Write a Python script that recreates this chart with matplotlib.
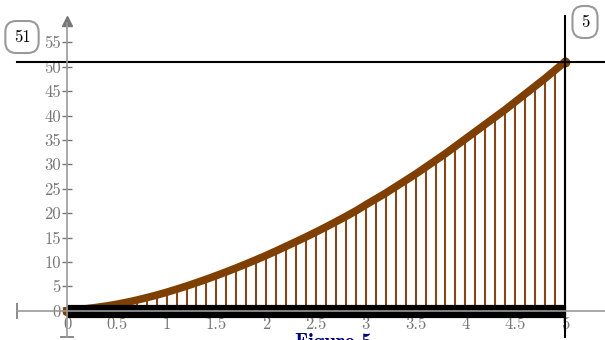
import matplotlib.pyplot as plt
from matplotlib.ticker import FuncFormatter

# curve samples, every 0.1 from 0 to 5
xs = [round(i * 0.1, 1) for i in range(51)]
ys = [0, 0.2, 0.42, 0.68, 0.98, 1.32, 1.72, 2.17, 2.67, 3.2,
      3.78, 4.4, 5.05, 5.74, 6.45, 7.2, 7.97, 8.77, 9.6, 10.45,
      11.33, 12.25, 13.2, 14.15, 15.12, 16.13, 17.16, 18.23, 19.32, 20.45,
      21.7, 22.9, 24.1, 25.4, 26.7, 28.0, 29.4, 30.8, 32.2, 33.7,
      35.2, 36.7, 38.2, 39.7, 41.2, 42.8, 44.4, 46.0, 47.6, 49.3,
      51.0]
x_ticks = [0, 0.5, 1, 1.5, 2, 2.5, 3, 3.5, 4, 4.5, 5]
y_ticks = [0, 5, 10, 15, 20, 25, 30, 35, 40, 45, 50, 55]
x_mark = 5
y_mark = 51
title = 'Figure 5'

brown = '#7f3f00'
grey = '#777777'

fig = plt.figure(figsize=(6.05, 3.4), dpi=100)
ax = fig.add_axes([0, 0, 1, 1])
ax.set_xlim(-0.6727, 5.4016)
ax.set_ylim(-6.0, 63.67)

# axes through the origin
for s in ['top', 'right']:
    ax.spines[s].set_visible(False)
ax.spines['left'].set_position(('data', 0))
ax.spines['bottom'].set_position(('data', 0))
ax.spines['left'].set_bounds(-5.4, 59)
ax.spines['bottom'].set_bounds(-0.5, 5.5)
for s in ['left', 'bottom']:
    ax.spines[s].set_color('#999999')
    ax.spines[s].set_linewidth(1.2)
    ax.spines[s].set_zorder(6)
ax.set_xticks(x_ticks)
ax.set_yticks(y_ticks)
ax.xaxis.set_major_formatter(FuncFormatter(lambda v, p: f'{v:g}'))
ax.tick_params(direction='inout', length=7, width=1, color=grey,
               labelcolor=grey, labelsize=12, pad=1)
for lab in ax.get_xticklabels() + ax.get_yticklabels():
    lab.set_family('cmr10')
for t in ax.xaxis.get_major_ticks() + ax.yaxis.get_major_ticks():
    t.tick1line.set_zorder(6)

# axis end markers
ax.plot([0], [59.4], marker='^', ms=7, color=grey, clip_on=False, zorder=6)
ax.plot([0], [-5.4], marker='_', ms=10, mew=1.2, color=grey, clip_on=False, zorder=6)
ax.plot([-0.5], [0], marker='|', ms=12, mew=1.2, color=grey, clip_on=False, zorder=6)

# stems, bar, curve
ax.vlines(xs, 0, ys, colors='#84471a', lw=1.5, zorder=2)
ax.plot([0, 5], [0, 0], color='black', lw=9.5, solid_capstyle='butt', zorder=4)
ax.plot(xs, ys, color=brown, lw=5.5, zorder=3)
ax.plot([xs[0], xs[-1]], [ys[0], ys[-1]], 'o', color=brown, ms=6, zorder=3)

# marker lines
ax.plot([-0.5, 5.5], [y_mark, y_mark], color='black', lw=1.5, zorder=5, clip_on=False)
ax.plot([x_mark, x_mark], [-5.4, 60.4], color='black', lw=1.5, zorder=5)

box = dict(boxstyle='round,pad=0.5,rounding_size=0.65', fc='white', ec='#999999', lw=1.5)
fig.text(22 / 605, 1 - 37 / 340, str(y_mark), ha='center', va='center',
         fontsize=12, family='cmr10', bbox=box)
fig.text(585 / 605, 1 - 22 / 340, str(x_mark), ha='center', va='center',
         fontsize=12, family='cmr10', bbox=box)

fig.text(333 / 605, 1 - 333 / 340, title, ha='center', va='top',
         fontsize=15, family='cmb10', color='#000080')

fig.savefig('out.png', dpi=100)
